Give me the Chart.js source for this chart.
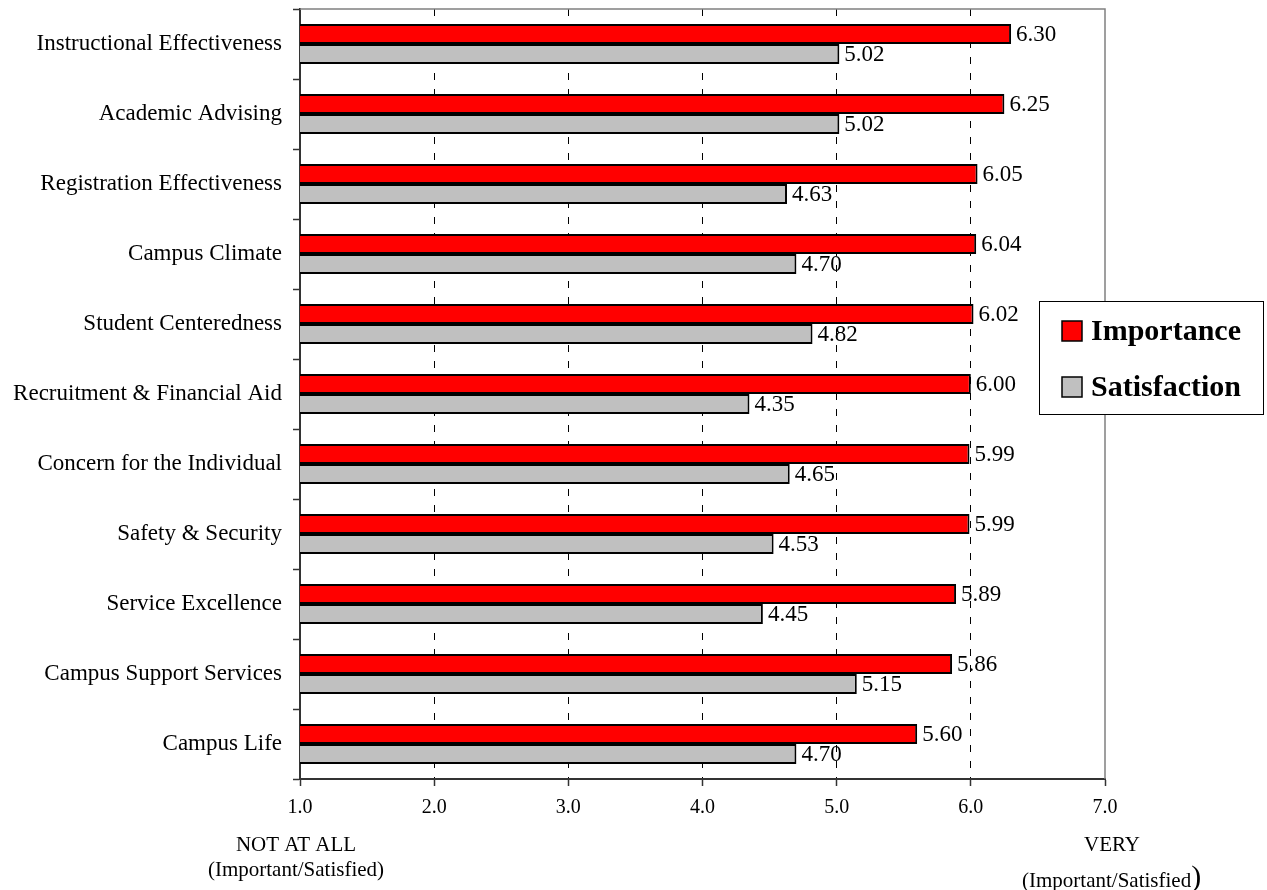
<!DOCTYPE html>
<html>
<head>
<meta charset="utf-8">
<style>
  html, body { margin: 0; padding: 0; background: #fff; }
  canvas { display: block; }
</style>
<script src="https://cdn.jsdelivr.net/npm/chart.js@4/dist/chart.umd.min.js"></script>
</head>
<body>
<canvas id="chart" width="1267" height="890"></canvas>
<script>
const categories = [
  'Instructional Effectiveness',
  'Academic Advising',
  'Registration Effectiveness',
  'Campus Climate',
  'Student Centeredness',
  'Recruitment & Financial Aid',
  'Concern for the Individual',
  'Safety & Security',
  'Service Excellence',
  'Campus Support Services',
  'Campus Life'
];
const importance = [6.30, 6.25, 6.05, 6.04, 6.02, 6.00, 5.99, 5.99, 5.89, 5.86, 5.60];
const satisfaction = [5.02, 5.02, 4.63, 4.70, 4.82, 4.35, 4.65, 4.53, 4.45, 5.15, 4.70];
const xTicks = [1, 2, 3, 4, 5, 6, 7];

const FONT = "'Liberation Serif', 'Times New Roman', serif";

// gray frame on the top and right of the plot area
const plotFrame = {
  id: 'plotFrame',
  beforeDatasetsDraw(chart) {
    const { ctx, chartArea: a } = chart;
    ctx.save();
    ctx.strokeStyle = '#808080';
    ctx.lineWidth = 1.5;
    ctx.beginPath();
    ctx.moveTo(a.left, a.top);
    ctx.lineTo(a.right, a.top);
    ctx.lineTo(a.right, a.bottom);
    ctx.stroke();
    ctx.restore();
  }
};

// value labels at the end of each bar
const valueLabels = {
  id: 'valueLabels',
  afterDatasetsDraw(chart) {
    const { ctx } = chart;
    ctx.save();
    ctx.font = '23px ' + FONT;
    ctx.fillStyle = '#000';
    ctx.textAlign = 'left';
    ctx.textBaseline = 'middle';
    chart.data.datasets.forEach((ds, di) => {
      chart.getDatasetMeta(di).data.forEach((bar, i) => {
        ctx.fillText(ds.data[i].toFixed(2), bar.x + 5, bar.y + 1);
      });
    });
    ctx.restore();
  }
};

// boxed legend and the scale end captions
const extras = {
  id: 'extras',
  afterDraw(chart) {
    const { ctx } = chart;
    ctx.save();

    // legend box
    const lx = 1039, ly = 301, lw = 224, lh = 113;
    ctx.fillStyle = '#fff';
    ctx.fillRect(lx, ly, lw, lh);
    ctx.strokeStyle = '#000';
    ctx.lineWidth = 1;
    ctx.strokeRect(lx + 0.5, ly + 0.5, lw, lh);
    ctx.font = 'bold 30px ' + FONT;
    ctx.textBaseline = 'middle';
    ctx.textAlign = 'left';
    chart.data.datasets.forEach((ds, i) => {
      const cy = ly + 30 + i * 56;
      ctx.fillStyle = ds.backgroundColor;
      ctx.fillRect(lx + 23, cy - 10, 20, 20);
      ctx.strokeStyle = '#000';
      ctx.lineWidth = 1.5;
      ctx.strokeRect(lx + 23, cy - 10, 20, 20);
      ctx.fillStyle = '#000';
      ctx.fillText(ds.label, lx + 52, cy + 1);
    });

    // captions under the axis
    ctx.font = '21px ' + FONT;
    ctx.fillStyle = '#000';
    ctx.textAlign = 'center';
    ctx.fillText('NOT AT ALL', 296, 845);
    ctx.fillText('(Important/Satisfied)', 296, 870);
    ctx.fillText('VERY', 1112, 845);
    ctx.textAlign = 'left';
    const s = '(Important/Satisfied';
    ctx.fillText(s, 1022, 881);
    const w = ctx.measureText(s).width;
    ctx.font = '30px ' + FONT;
    ctx.fillText(')', 1022 + w, 878);
    ctx.restore();
  }
};

new Chart(document.getElementById('chart'), {
  type: 'bar',
  data: {
    labels: categories,
    datasets: [
      {
        label: 'Importance',
        data: importance,
        backgroundColor: '#ff0000',
        borderColor: '#000',
        borderWidth: 2,
        categoryPercentage: 0.571,
        barPercentage: 1.0
      },
      {
        label: 'Satisfaction',
        data: satisfaction,
        backgroundColor: '#c0c0c0',
        borderColor: '#000',
        borderWidth: 2,
        categoryPercentage: 0.571,
        barPercentage: 1.0
      }
    ]
  },
  options: {
    indexAxis: 'y',
    responsive: false,
    animation: false,
    layout: { padding: { top: 9, right: 162, left: 0, bottom: 0 } },
    scales: {
      x: {
        min: 1,
        max: 7,
        afterBuildTicks: scale => { scale.ticks = xTicks.map(v => ({ value: v })); },
        afterFit: scale => { scale.height = 111; scale.paddingLeft = 0; scale.paddingRight = 0; },
        ticks: {
          color: '#000',
          font: { family: FONT, size: 20 },
          padding: 10,
          callback: v => Number(v).toFixed(1)
        },
        grid: {
          color: ctx => (ctx.tick && ctx.tick.value > 1 && ctx.tick.value < 7) ? '#000' : 'rgba(0,0,0,0)',
          lineWidth: 1,
          tickColor: '#333',
          tickLength: 7,
          tickWidth: 1.5,
          tickBorderDash: []
        },
        border: { color: '#333', width: 2, dash: [7, 9] }
      },
      y: {
        afterFit: scale => { scale.width = 300; scale.paddingTop = 0; scale.paddingBottom = 0; },
        ticks: {
          color: '#000',
          font: { family: FONT, size: 23 },
          padding: 11
        },
        grid: {
          drawOnChartArea: false,
          tickColor: '#333',
          tickLength: 7,
          tickWidth: 1.5
        },
        border: { color: '#333', width: 2 }
      }
    },
    plugins: {
      legend: { display: false },
      tooltip: { enabled: false }
    }
  },
  plugins: [plotFrame, valueLabels, extras]
});
</script>
</body>
</html>
